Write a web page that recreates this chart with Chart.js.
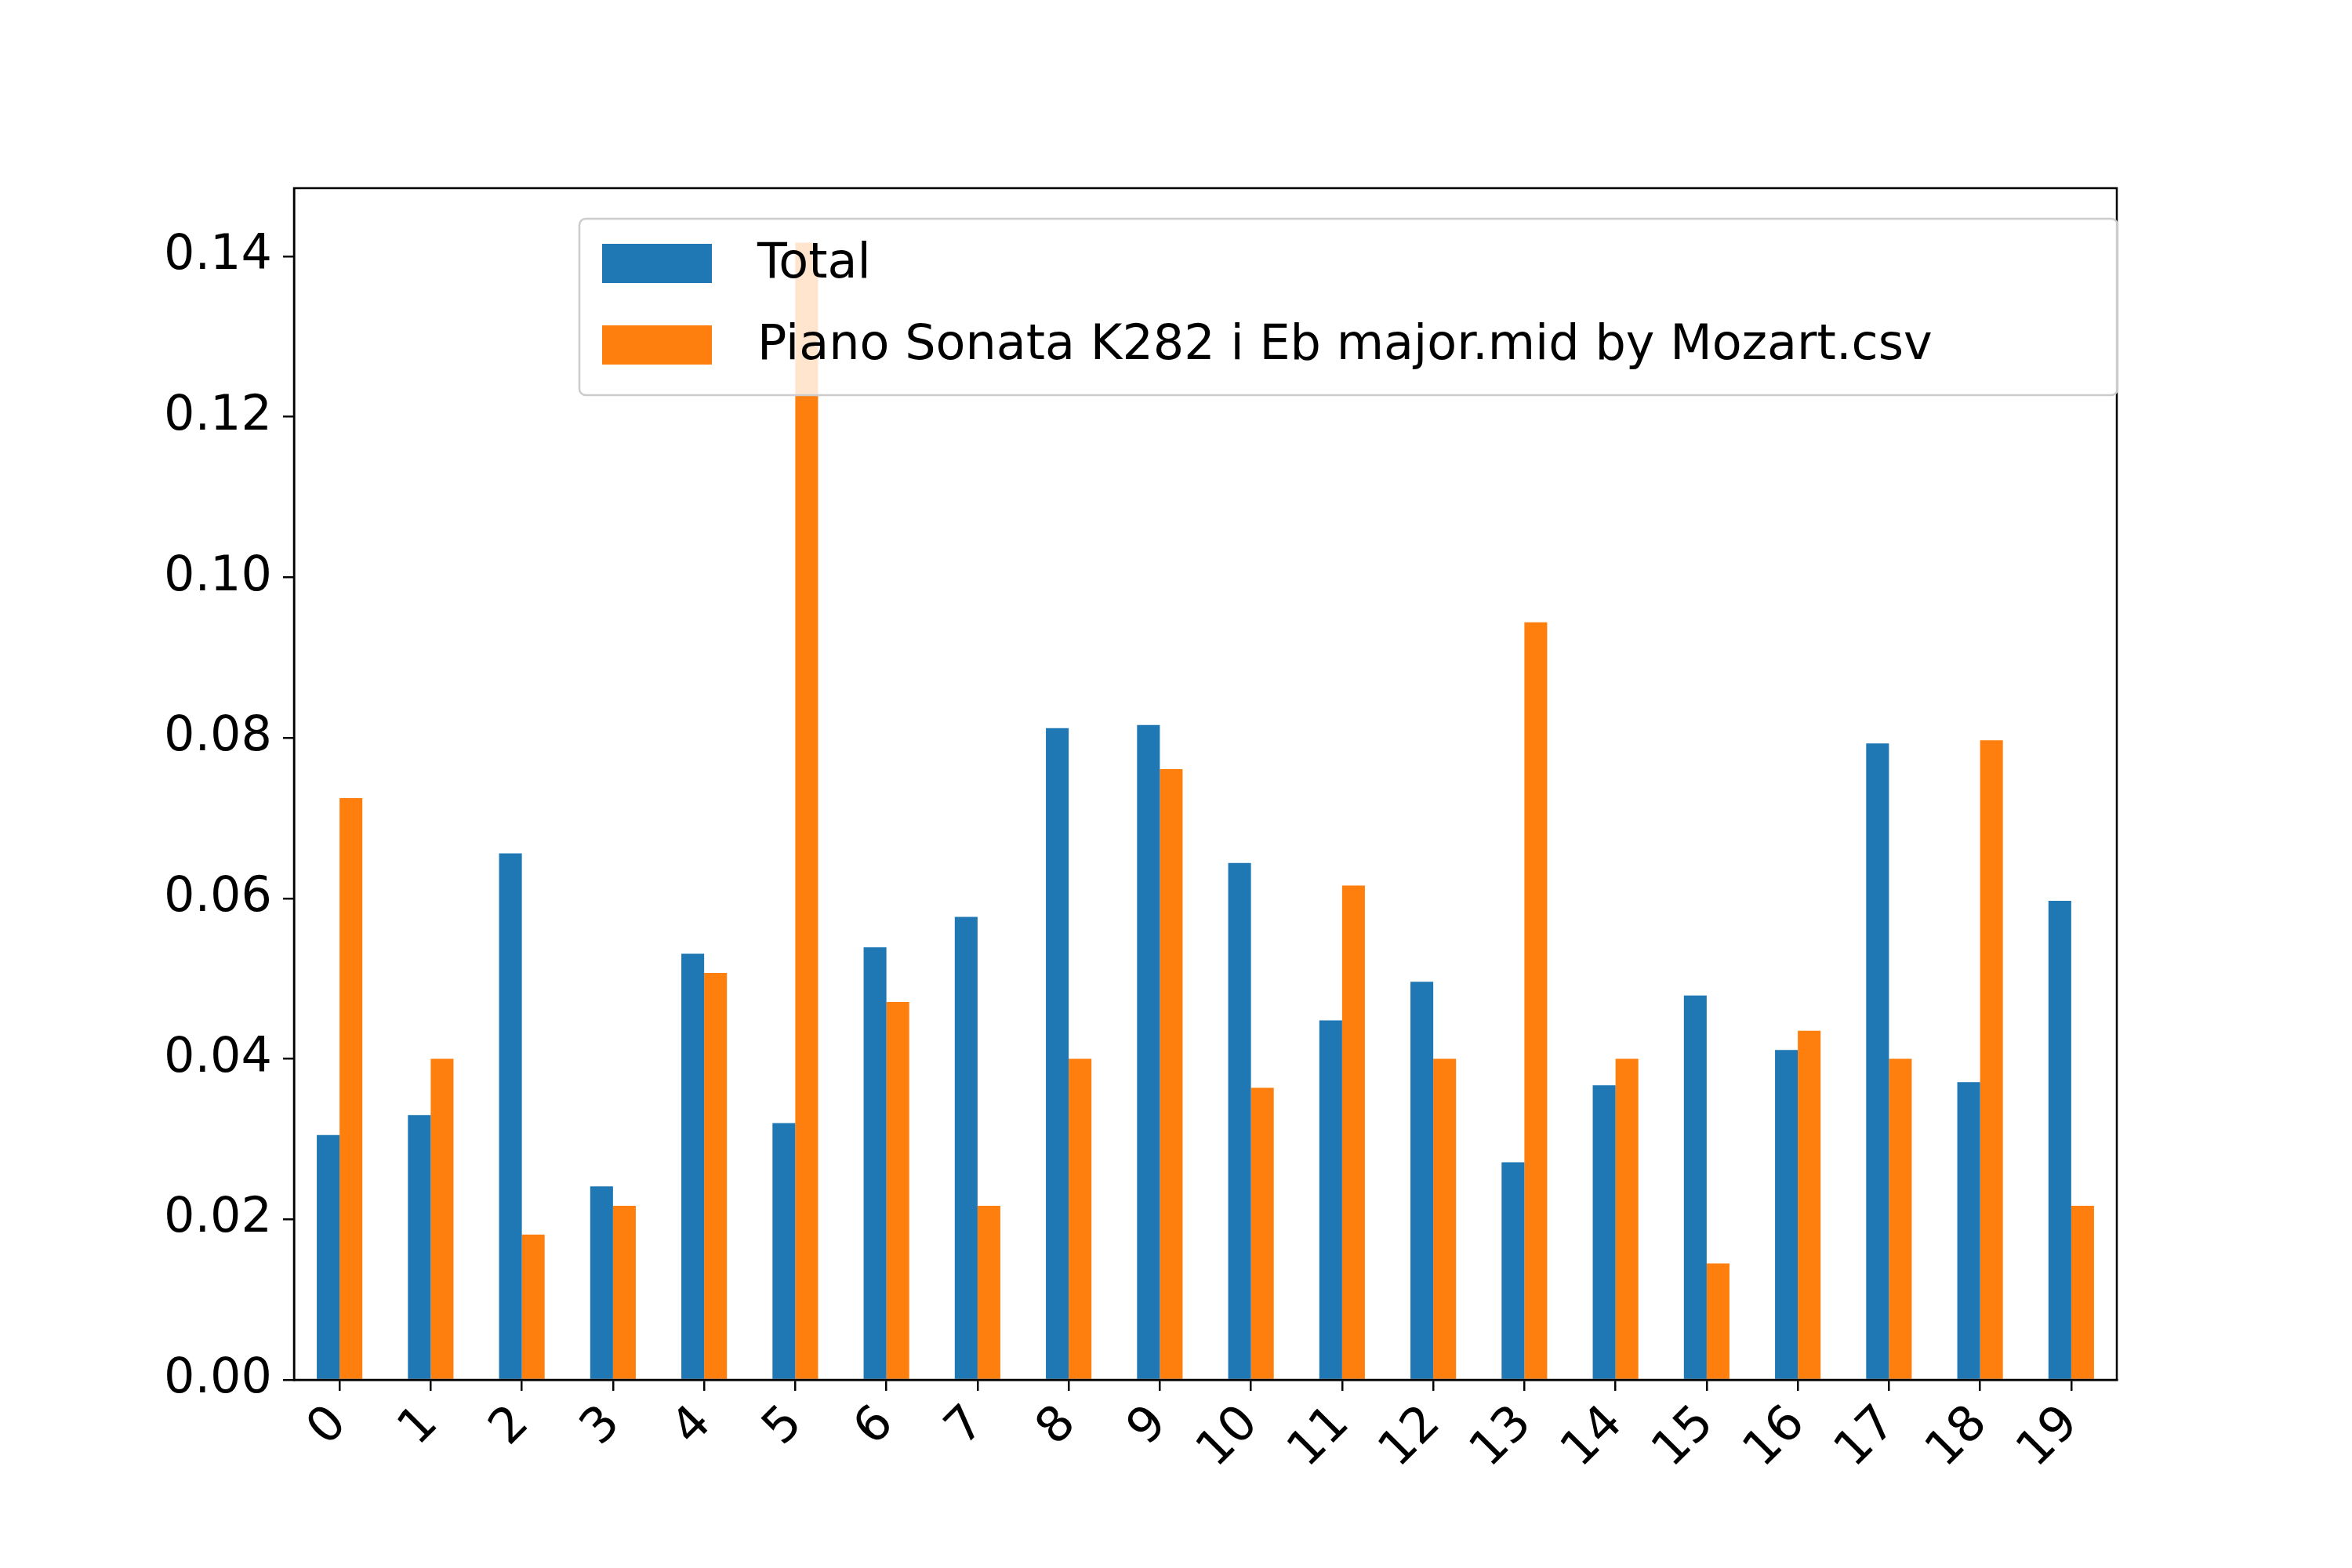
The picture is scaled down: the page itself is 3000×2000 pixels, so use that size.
<!DOCTYPE html>
<html>
<head>
<meta charset="utf-8">
<script src="https://cdn.jsdelivr.net/npm/chart.js@4"></script>
<style>
  html, body { margin: 0; padding: 0; background: #fff; }
  #wrap { width: 3000px; height: 2000px; }
</style>
</head>
<body>
<div id="wrap"><canvas id="c" width="3000" height="2000"></canvas></div>
<script>
const categories = ['0','1','2','3','4','5','6','7','8','9','10','11','12','13','14','15','16','17','18','19'];
const totalValues = [0.0305, 0.0330, 0.0656, 0.0241, 0.0531, 0.0320, 0.0539, 0.0577, 0.0812, 0.0816,
                     0.0644, 0.0448, 0.0496, 0.0271, 0.0367, 0.0479, 0.0411, 0.0793, 0.0371, 0.0597];
const pianoValues = [0.0725, 0.0400, 0.0181, 0.0217, 0.0507, 0.1417, 0.0471, 0.0217, 0.0400, 0.0761,
                     0.0364, 0.0616, 0.0400, 0.0944, 0.0400, 0.0145, 0.0435, 0.0400, 0.0797, 0.0217];
const yTicks = [0, 0.02, 0.04, 0.06, 0.08, 0.10, 0.12, 0.14];

const FONT = 'DejaVu Sans';
const FS = 62;

// frame (top/right spines) and legend box drawn on top
const frameAndLegend = {
  id: 'frameAndLegend',
  afterDraw(chart) {
    const { ctx, chartArea: a } = chart;
    ctx.save();
    ctx.strokeStyle = '#000';
    ctx.lineWidth = 2.5;
    ctx.strokeRect(a.left, a.top, a.right - a.left, a.bottom - a.top);

    // legend
    const x0 = 739, y0 = 279, w = 1962, h = 225;
    ctx.fillStyle = 'rgba(255,255,255,0.8)';
    ctx.strokeStyle = '#cccccc';
    ctx.lineWidth = 2.5;
    ctx.beginPath();
    ctx.roundRect(x0, y0, w, h, 8);
    ctx.fill();
    ctx.stroke();
    const items = [
      { label: 'Total', color: '#1f77b4', y: 336 },
      { label: 'Piano Sonata K282 i Eb major.mid by Mozart.csv', color: '#ff7f0e', y: 440 },
    ];
    ctx.font = FS + 'px "' + FONT + '"';
    ctx.textBaseline = 'middle';
    items.forEach(it => {
      ctx.fillStyle = it.color;
      ctx.fillRect(768, it.y - 25, 140, 50);
      ctx.fillStyle = '#000';
      ctx.fillText(it.label, 966, it.y + 2);
    });
    ctx.restore();
  },
};

new Chart(document.getElementById('c').getContext('2d'), {
  type: 'bar',
  data: {
    labels: categories,
    datasets: [
      { label: 'Total', data: totalValues, backgroundColor: '#1f77b4' },
      { label: 'Piano Sonata K282 i Eb major.mid by Mozart.csv', data: pianoValues, backgroundColor: '#ff7f0e' },
    ],
  },
  options: {
    responsive: false,
    animation: false,
    devicePixelRatio: 1,
    layout: { padding: { top: 240, right: 300, left: 0, bottom: 0 } },
    datasets: { bar: { categoryPercentage: 0.5, barPercentage: 1.0 } },
    plugins: { legend: { display: false }, tooltip: { enabled: false } },
    scales: {
      x: {
        offset: true,
        grid: { display: true, drawOnChartArea: false, drawTicks: true, tickLength: 14, color: '#000', lineWidth: 2.5, offset: false },
        border: { color: '#000', width: 2.5 },
        ticks: {
          color: '#000', font: { family: FONT, size: FS }, minRotation: 45, maxRotation: 45, padding: 6,
        },
        afterFit(scale) { scale.height = 240; },
      },
      y: {
        min: 0,
        max: 0.1485,
        afterBuildTicks(scale) { scale.ticks = yTicks.map(v => ({ value: v })); },
        grid: { display: true, drawOnChartArea: false, drawTicks: true, tickLength: 14, color: '#000', lineWidth: 2.5 },
        border: { color: '#000', width: 2.5 },
        ticks: {
          color: '#000', font: { family: FONT, size: FS }, padding: 14,
          callback: v => v.toFixed(2),
        },
        afterFit(scale) { scale.width = 375; },
      },
    },
  },
  plugins: [frameAndLegend],
});
</script>
</body>
</html>
